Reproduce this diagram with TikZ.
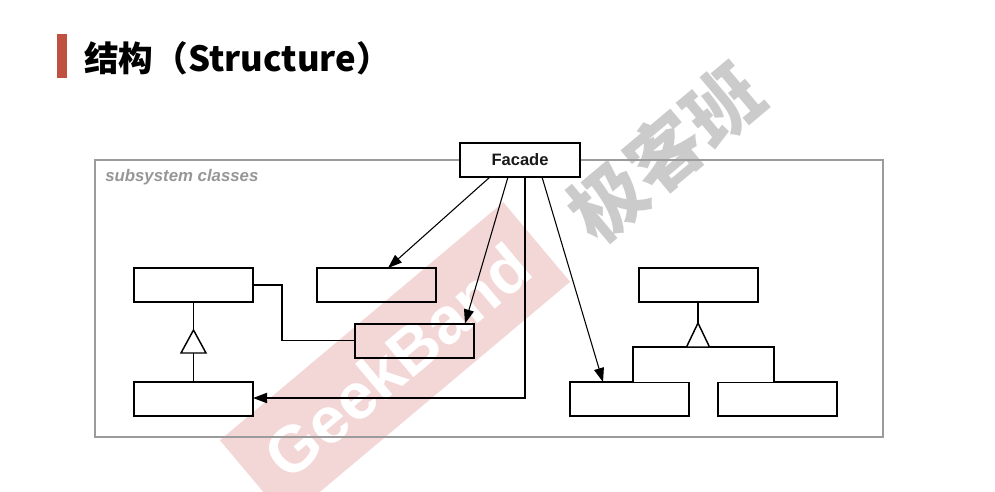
\documentclass[tikz,border=0pt]{standalone}
\usepackage{fontspec}
\setmainfont{Liberation Sans}
\newfontfamily\cjk{Noto Sans CJK SC}
\usetikzlibrary{arrows.meta,calc}
\definecolor{titlered}{RGB}{192,80,64}
\definecolor{framegray}{RGB}{155,155,155}
\definecolor{labelgray}{RGB}{150,150,150}
\definecolor{bandpink}{RGB}{243,214,214}
\definecolor{wmgray}{RGB}{203,203,203}
\tikzset{
  cls/.style={draw=black, line width=1.5pt, minimum width=89.25pt, minimum height=25.5pt, inner sep=0pt, outer sep=0pt},
  facadebox/.style={cls, fill=white, minimum width=90pt, font=\fontsize{12.4pt}{14pt}\selectfont\bfseries, text={black!90}},
  assoc/.style={line width=0.8pt, -{Triangle[length=10.5pt,width=7.5pt]}},
  wire/.style={line width=1.4pt},
  inh/.style={line width=1.1pt, fill=white},
}
\begin{document}
\begin{tikzpicture}[x=0.75pt,y=-0.75pt]
\useasboundingbox (0,0) rectangle (995,492);
% watermark
\fill[bandpink] (219.9,440.2) -- (503.3,202.2) -- (570.1,281.8) -- (286.7,519.8) -- cycle;
\node[rotate=40, text=white, font=\fontsize{49pt}{50pt}\selectfont\bfseries] (wm1) at (397,361) {GeekBand};
\node[rotate=40, text=wmgray, font=\fontsize{56pt}{58pt}\selectfont\cjk\bfseries] (wm2) at (665,152) {极客班};
% title
\fill[titlered] (57,34) rectangle (67,78);
\node[anchor=base west, inner sep=0pt, font=\fontsize{26pt}{30pt}\selectfont\cjk\bfseries] (title) at (84,72) {结构（Structure）};
% frame
\node[draw=framegray, line width=2.2pt, minimum width=591pt, minimum height=207.75pt, inner sep=0pt] (sub) at (489,298.5) {};
\node[anchor=base west, inner sep=0pt, text=labelgray, font=\fontsize{12.6pt}{14pt}\selectfont\bfseries\itshape] (sublabel) at (105,181) {subsystem classes};
% classes
\node[facadebox] (facade) at (520,160) {Facade};
\node[cls] (lt) at (193.5,285) {};
\node[cls] (mt) at (376,285) {};
\node[cls] (mm) at (414.5,340.5) {};
\node[cls] (lb) at (193.5,399) {};
\node[cls] (rt) at (698,285) {};
\node[cls] (rbl) at (629.5,399) {};
\node[cls] (rbr) at (777.5,399) {};
% facade associations
\draw[assoc] ($(facade.south)+(-30,0)$) -- ($(mt.north)+(12,0)$);
\draw[assoc] ($(facade.south)+(-12,0)$) -- ($(mm.north)+(50.5,0)$);
\draw[wire, -{Triangle[length=10.5pt,width=7.5pt]}] ($(facade.south)+(5,0)$) |- ($(lb.east)+(0,-1)$);
\draw[assoc] ($(facade.south)+(22,0)$) -- ($(rbl.north)+(-26.5,0)$);
% lt - mm link
\draw[wire] (lt.east) -- ++(29,0) |- (mm.west);
% left inheritance
\draw[inh] (lt.south) -- (lb.north);
\coordinate (tl) at ($(lb.north)+(0,-29)$);
\draw[inh] ($(tl)+(-12.5,0)$) -- ($(tl)+(0,-23)$) -- ($(tl)+(12.5,0)$) -- cycle;
% right inheritance
\draw[inh] (rt.south) -- ++(0,21);
\draw[inh] ($(rbl.north)+(3.5,0)$) -- ++(0,-35) -| ($(rbr.north)+(-3.5,0)$);
\coordinate (tr) at ($(rt.south)+(0,45)$);
\draw[inh] ($(tr)+(-11.5,0)$) -- ($(tr)+(0,-24)$) -- ($(tr)+(11.5,0)$) -- cycle;
\end{tikzpicture}
\end{document}
